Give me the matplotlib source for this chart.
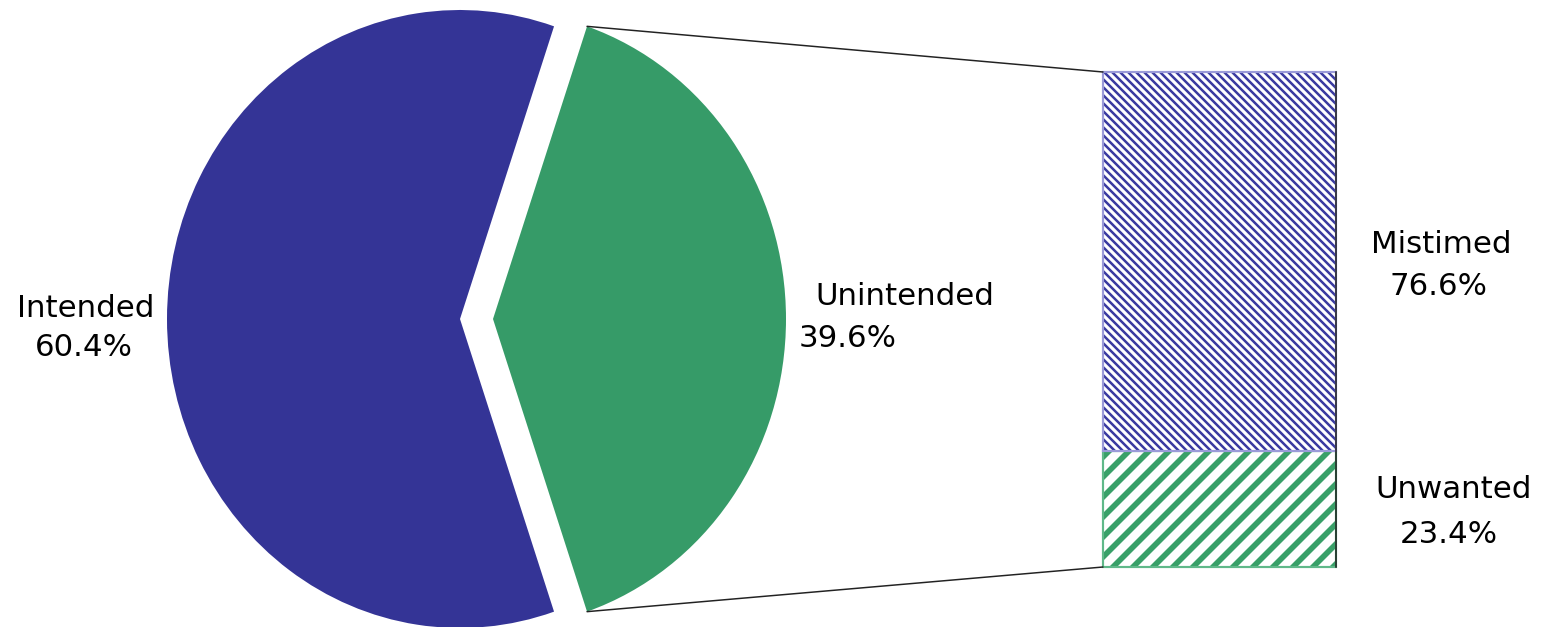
import numpy as np
import matplotlib
matplotlib.use("Agg")
import matplotlib.pyplot as plt
from matplotlib.patches import ConnectionPatch

# Pie: intention status of pregnancies
pie_labels = ["Intended", "Unintended"]
pie_values = [60.4, 39.6]
pie_colors = ["#343496", "#369b68"]

# Breakdown of the unintended share (bottom to top)
bar_labels = ["Unwanted", "Mistimed"]
bar_values = [23.4, 76.6]
bar_stripe_colors = ["#38a068", "#3a3aa0"]
bar_edge_colors = ["#5fb889", "#9a9ad8"]
bar_hatches = ["//", "\\\\\\\\\\"]
bar_hatch_widths = [3.4, 1.5]

W, H, DPI = 1542, 627, 120
fig = plt.figure(figsize=(W / DPI, H / DPI), dpi=DPI)
fig.patch.set_facecolor("white")


def fx(x):
    return x / W


def fy(y):
    return 1 - y / H


# ---- pie (slightly elliptical: 293 px wide radius, 309 px tall radius)
cx, cy, rx, ry = 460, 319, 293, 309
ax = fig.add_axes([0, 0, 1, 1])
wedges, _ = ax.pie(
    pie_values,
    colors=pie_colors,
    startangle=180 - pie_values[0] * 1.8,
    counterclock=True,
    explode=[0, 33 / rx],
    wedgeprops=dict(linewidth=0),
)
ax.set_aspect("auto")
ax.set_xlim(-cx / rx, (W - cx) / rx)
ax.set_ylim((cy - H) / ry, cy / ry)
ax.axis("off")

# ---- stacked bar for the breakdown
bx0, bx1, by0, by1 = 1103, 1336, 72, 567
bax = fig.add_axes([fx(bx0), fy(by1), (bx1 - bx0) / W, (by1 - by0) / H])
total = sum(bar_values)
bax.set_xlim(0, 1)
bax.set_ylim(0, total)
bax.axis("off")

bottom = 0.0
for val, scol, ecol, hatch, hw in zip(bar_values, bar_stripe_colors,
                                      bar_edge_colors, bar_hatches,
                                      bar_hatch_widths):
    with plt.rc_context({"hatch.linewidth": hw}):
        bars = bax.bar(0.5, val, width=1, bottom=bottom, color="white",
                       edgecolor=scol, linewidth=0, hatch=hatch)
    for p in bars:
        if hasattr(p, "set_hatch_linewidth"):
            p.set_hatch_linewidth(hw)
    outline = bax.bar(0.5, val, width=1, bottom=bottom, fill=False,
                      edgecolor=ecol, linewidth=1.3)
    for p in outline:
        p.set_clip_on(False)
    bottom += val

bax.axvline(1, color="#1a1a1a", lw=0.9, clip_on=False)

# ---- connector lines from the unintended wedge to the bar
w = wedges[1]
wc = np.array(w.center)
t_top = np.deg2rad(w.theta2)
t_bot = np.deg2rad(w.theta1)
p_top = wc + np.array([np.cos(t_top), np.sin(t_top)]) * w.r
p_bot = wc + np.array([np.cos(t_bot), np.sin(t_bot)]) * w.r
for pa, pb in [(p_top, (0, total)), (p_bot, (0, 0))]:
    con = ConnectionPatch(xyA=tuple(pa), coordsA=ax.transData,
                          xyB=pb, coordsB=bax.transData,
                          color="#222222", lw=0.9)
    fig.add_artist(con)

# ---- labels
fs = 18.5
font = dict(fontsize=fs, color="black", family="DejaVu Sans",
            va="baseline")

fig.text(fx(86), fy(317), pie_labels[0], ha="center", **font)
fig.text(fx(84), fy(356), f"{pie_values[0]:.1f}%", ha="center", **font)

fig.text(fx(815), fy(305), pie_labels[1], ha="left", **font)
fig.text(fx(799), fy(347), f"{pie_values[1]:.1f}%", ha="left", **font)

fig.text(fx(1441), fy(253), bar_labels[1], ha="center", **font)
fig.text(fx(1438), fy(295), f"{bar_values[1]:.1f}%", ha="center", **font)

fig.text(fx(1454), fy(498), bar_labels[0], ha="center", **font)
fig.text(fx(1449), fy(543), f"{bar_values[0]:.1f}%", ha="center", **font)

fig.savefig("out.png", dpi=DPI, facecolor="white")
